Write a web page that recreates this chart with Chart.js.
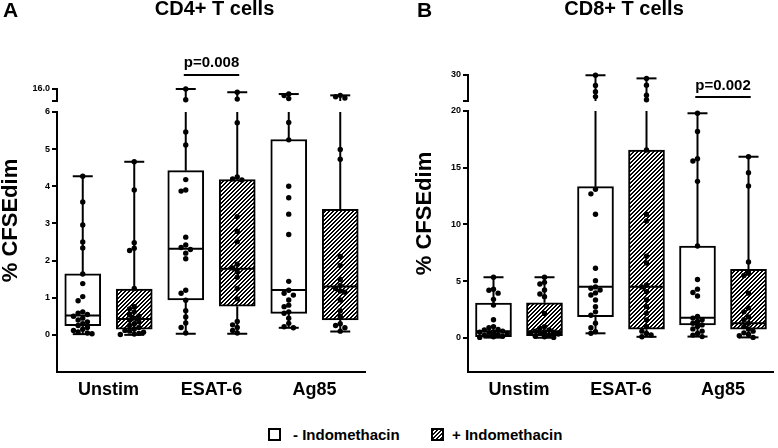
<!DOCTYPE html>
<html>
<head>
<meta charset="utf-8">
<script src="https://cdn.jsdelivr.net/npm/chart.js@4.4.0/dist/chart.umd.min.js"></script>
<style>
  body { margin: 0; background: #fff; width: 778px; height: 448px; position: relative; overflow: hidden;
         font-family: "Liberation Sans", Arial, sans-serif; }
  .panel { position: absolute; top: 0; width: 389px; height: 410px; }
  .leg { position: absolute; top: 426px; display: flex; align-items: center; font-size: 15px; font-weight: bold; color: #000; }
  .sw { width: 13px; height: 13px; box-sizing: border-box; border: 2px solid #000; background: #fff; margin-right: 12px; }
  .sw.hatch { background: repeating-linear-gradient(135deg, #111 0 1.4px, #fff 1.4px 2.8px); margin-right: 8px; }
</style>
</head>
<body>
<div class="panel" style="left:0"><canvas id="chartA"></canvas></div>
<div class="panel" style="left:389px"><canvas id="chartB"></canvas></div>
<div class="leg" style="left:268px"><span class="sw"></span>- Indomethacin</div>
<div class="leg" style="left:431px"><span class="sw hatch"></span>+ Indomethacin</div>
<script>
// box order: - / + Indomethacin for Unstim, ESAT-6, Ag85
const positions = [1, 2, 3, 4, 5, 6];
const groupTicks = [1.5, 3.5, 5.5];
const groupLabels = ['Unstim', 'ESAT-6', 'Ag85'];

// CD4+ T cells (% CFSEdim per donor)
const cd4UnstimMinus = [4.27, 3.58, 2.96, 2.5, 2.34, 1.64, 1.38, 1.03, 0.92, 0.62, 0.58, 0.55, 0.5, 0.45, 0.4, 0.35, 0.3, 0.25, 0.2, 0.15, 0.12, 0.08, 0.05, 0.03];
const cd4UnstimPlus = [4.66, 3.9, 2.48, 2.33, 2.27, 1.25, 0.76, 0.7, 0.62, 0.55, 0.5, 0.45, 0.4, 0.35, 0.3, 0.25, 0.2, 0.16, 0.12, 0.1, 0.07, 0.04, 0.02, 0.01];
const cd4EsatMinus = [16.0, 7.0, 5.46, 5.11, 4.18, 3.9, 3.87, 2.63, 2.42, 2.35, 2.3, 2.2, 2.05, 1.2, 1.12, 0.93, 0.65, 0.48, 0.32, 0.2, 0.05];
const cd4EsatPlus = [13.3, 7.6, 5.71, 4.25, 4.2, 4.17, 3.18, 2.79, 2.51, 1.9, 1.8, 1.7, 1.55, 1.25, 0.97, 0.36, 0.27, 0.2, 0.12, 0.05];
const cd4Ag85Minus = [11.8, 10.5, 8.0, 5.72, 5.25, 4.0, 3.69, 3.25, 2.7, 1.44, 1.2, 1.12, 1.07, 0.94, 0.8, 0.76, 0.62, 0.58, 0.45, 0.31, 0.22, 0.19];
const cd4Ag85Plus = [10.7, 9.5, 8.5, 4.99, 4.73, 2.11, 1.87, 1.49, 1.33, 1.25, 1.18, 1.15, 0.94, 0.65, 0.5, 0.3, 0.25, 0.19, 0.1];
const cd4Low = [0.02, 0.0, 0.03, 0.03, 0.19, 0.09];
const cd4Q1 = [0.25, 0.15, 0.94, 0.77, 0.58, 0.40];
const cd4Median = [0.52, 0.43, 2.32, 1.78, 1.21, 1.30];
const cd4Q3 = [1.64, 1.23, 4.42, 4.18, 5.26, 3.38];
const cd4High = [4.27, 4.66, 16.0, 13.3, 11.8, 10.7];
const cd4LowerTicks = [0, 1, 2, 3, 4, 5, 6];
const cd4UpperTicks = [6, 16];

// CD8+ T cells
const cd8UnstimMinus = [5.35, 4.3, 4.2, 3.95, 3.4, 2.9, 1.6, 1.0, 0.9, 0.75, 0.7, 0.6, 0.55, 0.5, 0.45, 0.4, 0.35, 0.3, 0.25, 0.2, 0.15, 0.1, 0.05];
const cd8UnstimPlus = [5.35, 4.9, 4.76, 4.23, 3.88, 3.64, 2.15, 1.0, 0.85, 0.7, 0.6, 0.55, 0.5, 0.45, 0.4, 0.35, 0.3, 0.25, 0.2, 0.15, 0.1, 0.05];
const cd8EsatMinus = [29.9, 26.0, 23.6, 21.7, 13.1, 12.7, 10.9, 6.14, 5.05, 4.5, 4.38, 4.23, 3.97, 3.79, 3.35, 2.76, 2.3, 2.0, 1.3, 0.9, 0.55, 0.41];
const cd8EsatPlus = [28.7, 26.1, 22.2, 20.5, 16.56, 10.9, 10.3, 7.2, 6.6, 4.67, 4.5, 4.08, 3.35, 2.76, 2.18, 1.59, 1.0, 0.6, 0.4, 0.26, 0.1];
const cd8Ag85Minus = [19.8, 18.2, 15.8, 15.6, 13.8, 8.1, 5.15, 4.3, 4.0, 3.7, 1.9, 1.75, 1.6, 1.45, 1.3, 1.15, 1.0, 0.8, 0.6, 0.4, 0.25, 0.12];
const cd8Ag85Plus = [15.97, 14.56, 13.4, 6.7, 5.7, 5.5, 3.95, 2.65, 2.3, 1.85, 1.6, 1.3, 1.0, 0.8, 0.6, 0.45, 0.3, 0.2, 0.05];
const cd8Low = [0.03, 0.02, 0.41, 0.1, 0.12, 0.05];
const cd8Q1 = [0.12, 0.2, 1.88, 0.77, 1.15, 0.77];
const cd8Median = [0.6, 0.6, 4.52, 4.52, 1.79, 1.3];
const cd8Q3 = [3.08, 3.1, 13.33, 16.56, 8.1, 6.05];
const cd8High = [5.35, 5.35, 29.9, 28.7, 19.8, 15.97];
const cd8LowerTicks = [0, 5, 10, 15, 20];
const cd8UpperTicks = [20, 30];

Chart.defaults.font.family = '"Liberation Sans", Arial, sans-serif';
Chart.defaults.color = '#000';

// spread overlapping dots sideways a little (scatter dot plot)
function dodge(values, pos, tol) {
  const placed = [];
  const offs = [0, -1, 1, -2, 2, -3, 3];
  return values.map(v => {
    let k = offs.find(o => !placed.some(p => p.o === o && Math.abs(p.v - v) < tol));
    if (k === undefined) k = 0;
    placed.push({ v, o: k });
    return { x: pos + k * 0.09, y: v };
  });
}

function hatch(ctx) {
  const c = document.createElement('canvas');
  c.width = 4; c.height = 4;
  const g = c.getContext('2d');
  g.fillStyle = '#fff';
  g.fillRect(0, 0, 4, 4);
  g.fillStyle = '#000';
  for (let x = 0; x < 4; x++) {
    g.fillRect(x, 3 - x, 1, 1);
    g.fillRect(x, (4 - x) % 4, 1, 1);
  }
  return ctx.createPattern(c, 'repeat');
}

const boxPlot = {
  id: 'boxPlot',
  afterDatasetDraw(chart, args, o) {
    if (args.index !== 0) return;
    const ctx = chart.ctx, x = chart.scales.x, y = chart.scales.y, yt = chart.scales.yTop;
    const pix = v => v > y.max ? yt.getPixelForValue(v) : y.getPixelForValue(v);
    const seg = (x1, y1, x2, y2) => { ctx.beginPath(); ctx.moveTo(x1, y1); ctx.lineTo(x2, y2); ctx.stroke(); };
    ctx.save();
    ctx.strokeStyle = '#000';
    ctx.lineWidth = 2;
    // axis lines: lower y segment, upper y segment, x axis
    const ax = x.getPixelForValue(x.min);
    const yBase = y.getPixelForValue(y.min);
    seg(ax, y.getPixelForValue(y.max) - 1, ax, yBase + 1);
    seg(ax, yt.getPixelForValue(yt.max) - 1, ax, yt.getPixelForValue(yt.min) + 1);
    seg(ax - 1, yBase, x.getPixelForValue(x.max), yBase);
    positions.forEach((pos, i) => {
      const cx = x.getPixelForValue(pos);
      seg(cx, pix(o.q1[i]), cx, pix(o.low[i]));
      seg(cx - 10, pix(o.low[i]), cx + 10, pix(o.low[i]));
      if (o.high[i] > y.max) {
        seg(cx, pix(o.q3[i]), cx, y.getPixelForValue(y.max));
        seg(cx, yt.getPixelForValue(yt.min), cx, pix(o.high[i]));
      } else {
        seg(cx, pix(o.q3[i]), cx, pix(o.high[i]));
      }
      seg(cx - 10, pix(o.high[i]), cx + 10, pix(o.high[i]));
      seg(cx - 17, pix(o.median[i]), cx + 17, pix(o.median[i]));
    });
    ctx.restore();
  },
  afterDraw(chart, args, o) {
    const ctx = chart.ctx, area = chart.chartArea, x = chart.scales.x;
    ctx.save();
    ctx.fillStyle = '#000';
    ctx.textBaseline = 'middle';
    ctx.font = 'bold 21px "Liberation Sans", Arial';
    ctx.textAlign = 'left';
    ctx.fillText(o.letter, o.letterX, 11);
    ctx.font = 'bold 20px "Liberation Sans", Arial';
    ctx.textAlign = 'center';
    ctx.fillText(o.title, (area.left + area.right) / 2 + 3, 9);
    // p value with underline
    ctx.font = 'bold 15px "Liberation Sans", Arial';
    const px = x.getPixelForValue(o.pAt);
    ctx.fillText(o.pText, px, o.pY);
    const w = ctx.measureText(o.pText).width;
    ctx.fillRect(px - w / 2, o.pLineY - 1, w, 2);
    // y axis title
    ctx.font = 'bold 22px "Liberation Sans", Arial';
    ctx.translate(o.yTitleX, (area.top + area.bottom) / 2 - 10);
    ctx.rotate(-Math.PI / 2);
    ctx.fillText('% CFSEdim', 0, 0);
    ctx.restore();
  }
};

function makePanel(id, p) {
  const canvas = document.getElementById(id);
  const pattern = hatch(canvas.getContext('2d'));
  const lowerPts = [], upperPts = [];
  p.points.forEach((vals, i) => {
    dodge(vals.filter(v => v <= p.lowMax), positions[i], p.tolLow).forEach(pt => lowerPts.push(pt));
    dodge(vals.filter(v => v > p.lowMax), positions[i], p.tolUp).forEach(pt => upperPts.push(pt));
  });
  const yTicks = { font: { size: 9, weight: 'bold' }, color: '#000', padding: 2, autoSkip: false };
  const yGrid = { drawOnChartArea: false, tickLength: 5, color: '#000', lineWidth: 2 };
  const fitW = s => { s.width = p.axisW; };
  const dots = { type: 'scatter', backgroundColor: '#000', borderWidth: 0, pointRadius: 2.7, clip: false, order: 1 };
  const axisLine = { type: 'line', borderColor: '#000', borderWidth: 2, pointRadius: 0, clip: false, fill: false, order: 3 };

  new Chart(canvas, {
    type: 'bar',
    data: {
      datasets: [
        {
          type: 'bar',
          data: positions.map((x, i) => ({ x, y: [p.q1[i], p.q3[i]] })),
          backgroundColor: positions.map((x, i) => i % 2 ? pattern : '#fff'),
          borderColor: '#000', borderWidth: 2, borderSkipped: false,
          barThickness: 36, grouped: false, yAxisID: 'y', order: 2
        },
        Object.assign({ data: lowerPts, yAxisID: 'y' }, dots),
        Object.assign({ data: upperPts, yAxisID: 'yTop' }, dots),
        // axis lines as plain line datasets on the same scales
        Object.assign({ data: [{ x: 0.5, y: p.lowMin }, { x: 0.5, y: p.lowMax }], yAxisID: 'y' }, axisLine),
        Object.assign({ data: [{ x: 0.5, y: p.upTicks[0] }, { x: 0.5, y: p.upTicks[1] }], yAxisID: 'yTop' }, axisLine),
        Object.assign({ data: [{ x: 0.5, y: p.lowMin }, { x: 6.5, y: p.lowMin }], yAxisID: 'y' }, axisLine)
      ]
    },
    options: {
      responsive: true,
      maintainAspectRatio: false,
      animation: false,
      layout: { padding: { top: p.top, right: p.right, bottom: 8, left: 0 } },
      plugins: {
        legend: { display: false },
        tooltip: { enabled: false },
        boxPlot: {
          low: p.low, q1: p.q1, median: p.median, q3: p.q3, high: p.high,
          letter: p.letter, letterX: p.letterX, title: p.title, yTitleX: p.yTitleX,
          pText: p.pText, pAt: p.pAt, pY: p.pY, pLineY: p.pLineY
        }
      },
      scales: {
        x: {
          type: 'linear', min: 0.5, max: 6.5, offset: false,
          grid: { display: false, drawTicks: false, offset: false },
          border: { display: false },
          afterBuildTicks: s => { s.ticks = groupTicks.map(v => ({ value: v })); },
          ticks: {
            font: { size: 18, weight: 'bold' }, color: '#000', padding: 7, maxRotation: 0, autoSkip: false,
            callback: v => groupLabels[groupTicks.indexOf(v)]
          },
          afterFit: s => { s.height = 30; }
        },
        y: {
          type: 'linear', position: 'left', stack: 'v', stackWeight: p.wLow,
          min: p.lowMin, max: p.lowMax,
          afterBuildTicks: s => { s.ticks = p.lowTicks.map(v => ({ value: v })); },
          ticks: yTicks, grid: yGrid, border: { display: false }, afterFit: fitW
        },
        yGap: {
          type: 'linear', position: 'left', stack: 'v', stackWeight: p.wGap, min: 0, max: 1,
          grid: { display: false }, border: { display: false }, ticks: { display: false }, afterFit: fitW
        },
        yTop: {
          type: 'linear', position: 'left', stack: 'v', stackWeight: p.wUp,
          min: p.upTicks[0], max: p.upTicks[1],
          afterBuildTicks: s => { s.ticks = p.upTicks.map(v => ({ value: v })); },
          ticks: Object.assign({}, yTicks, { callback: v => v === p.upTicks[1] ? p.upLabel : '' }),
          grid: yGrid, border: { display: false }, afterFit: fitW
        }
      }
    },
    plugins: [boxPlot]
  });
}

makePanel('chartA', {
  points: [cd4UnstimMinus, cd4UnstimPlus, cd4EsatMinus, cd4EsatPlus, cd4Ag85Minus, cd4Ag85Plus],
  low: cd4Low, q1: cd4Q1, median: cd4Median, q3: cd4Q3, high: cd4High,
  lowMin: -1, lowMax: 6, lowTicks: cd4LowerTicks, upTicks: cd4UpperTicks, upLabel: '16.0',
  tolLow: 0.135, tolUp: 3,
  wLow: 260, wGap: 11, wUp: 12, top: 89, right: 23, axisW: 57,
  letter: 'A', letterX: 3, title: 'CD4+ T cells', yTitleX: 11,
  pText: 'p=0.008', pAt: 3.5, pY: 63, pLineY: 75
});

makePanel('chartB', {
  points: [cd8UnstimMinus, cd8UnstimPlus, cd8EsatMinus, cd8EsatPlus, cd8Ag85Minus, cd8Ag85Plus],
  low: cd8Low, q1: cd8Q1, median: cd8Median, q3: cd8Q3, high: cd8High,
  lowMin: -3, lowMax: 20, lowTicks: cd8LowerTicks, upTicks: cd8UpperTicks, upLabel: '30',
  tolLow: 0.44, tolUp: 1.6,
  wLow: 261, wGap: 10, wUp: 26, top: 75, right: 1, axisW: 79,
  letter: 'B', letterX: 28, title: 'CD8+ T cells', yTitleX: 36,
  pText: 'p=0.002', pAt: 5.5, pY: 86, pLineY: 97
});
</script>
</body>
</html>
